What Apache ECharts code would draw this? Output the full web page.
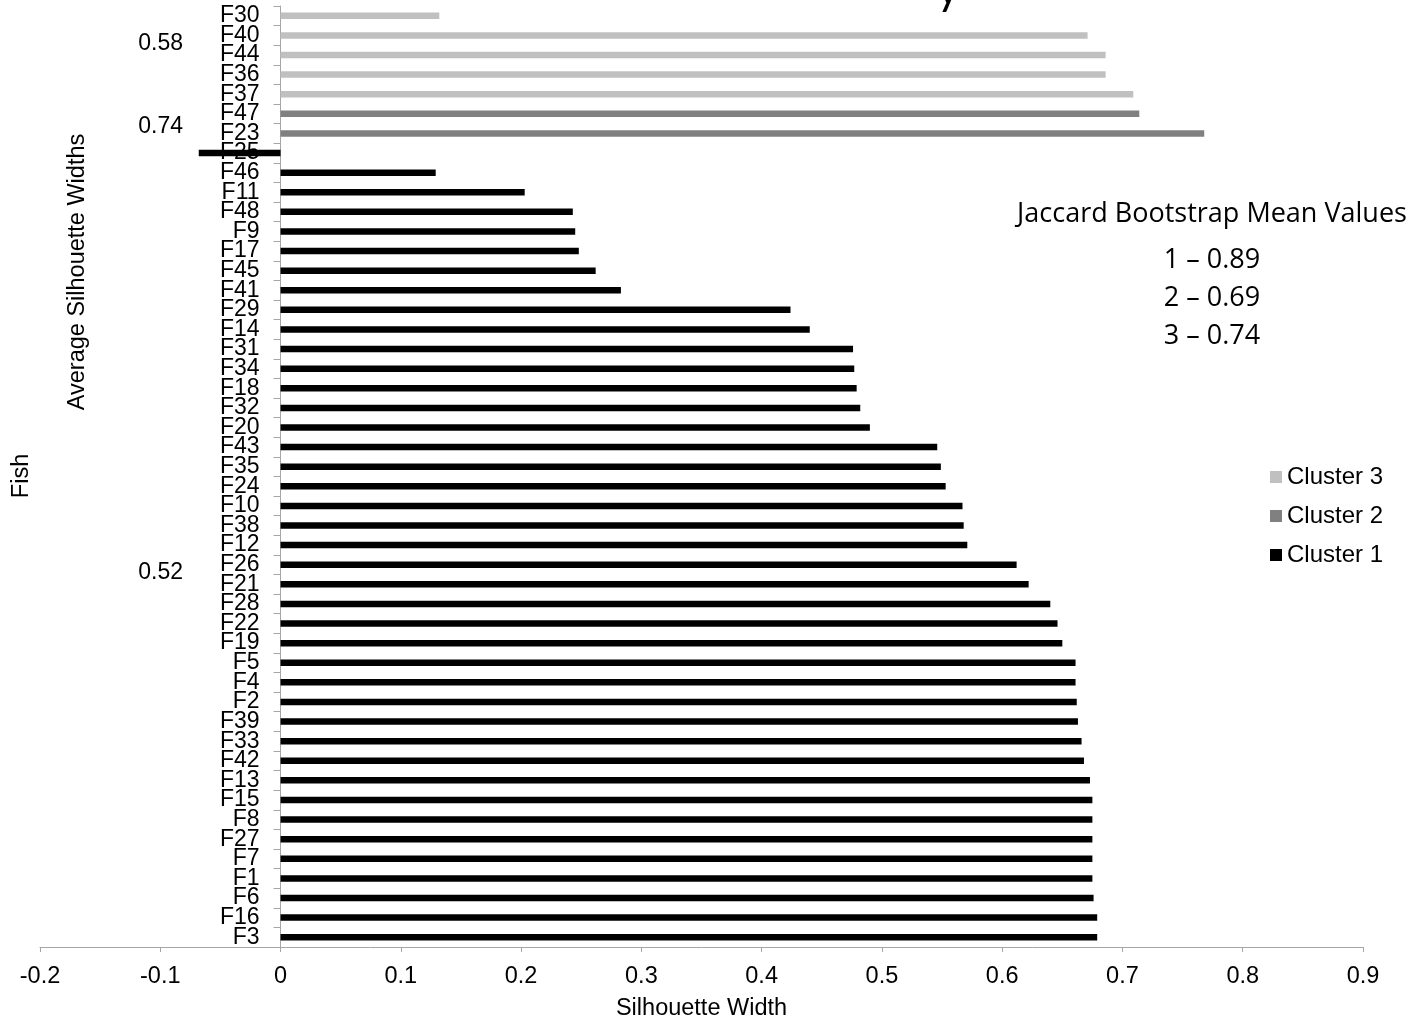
<!DOCTYPE html>
<html>
<head>
<meta charset="utf-8">
<script src="https://cdn.jsdelivr.net/npm/echarts@6/dist/echarts.min.js"></script>
<style>
  html, body { margin: 0; padding: 0; background: #fff; }
  #chart { width: 1416px; height: 1021px; }
</style>
</head>
<body>
<div id="chart"></div>
<script>
// Fish, listed top to bottom as drawn
const fish = ['F30','F40','F44','F36','F37','F47','F23','F25','F46','F11','F48','F9','F17','F45','F41','F29','F14','F31','F34','F18','F32','F20','F43','F35','F24','F10','F38','F12','F26','F21','F28','F22','F19','F5','F4','F2','F39','F33','F42','F13','F15','F8','F27','F7','F1','F6','F16','F3'];
// silhouette width per fish
const silhouette = [0.132,0.671,0.686,0.686,0.709,0.714,0.768,-0.068,0.129,0.203,0.243,0.245,0.248,0.262,0.283,0.424,0.440,0.476,0.477,0.479,0.482,0.490,0.546,0.549,0.553,0.567,0.568,0.571,0.612,0.622,0.640,0.646,0.650,0.661,0.661,0.662,0.663,0.666,0.668,0.673,0.675,0.675,0.675,0.675,0.675,0.676,0.679,0.679];
// cluster membership per fish
const cluster = [3,3,3,3,3,2,2,1,1,1,1,1,1,1,1,1,1,1,1,1,1,1,1,1,1,1,1,1,1,1,1,1,1,1,1,1,1,1,1,1,1,1,1,1,1,1,1,1];
const clusterNames = ['Cluster 3','Cluster 2','Cluster 1'];
const clusterIds = [3, 2, 1];
const clusterColors = ['#c0c0c0','#808080','#000000'];
const avgWidthLabels = ['0.58','0.74','0.52'];
const jaccardTitle = 'Jaccard Bootstrap Mean Values';
const jaccardLines = ['1 – 0.89','2 – 0.69','3 – 0.74'];
const xTicks = { min: -0.2, max: 0.9, interval: 0.1 };

const W = 1416, H = 1021;
const GRID = { left: 40, right: 53, top: 6, bottom: 74 };
const FONT = '"Liberation Sans", Arial, sans-serif';
const FS = 23;
const JFONT = '27px "Open Sans", sans-serif';

// y axis sits at x = 0 of the value scale
const gridWidth = W - GRID.left - GRID.right;
const zeroOffset = gridWidth * (0 - xTicks.min) / (xTicks.max - xTicks.min);

const series = clusterIds.map((cid, i) => ({
  name: clusterNames[i],
  type: 'bar',
  stack: 'all',
  barWidth: 6.5,
  itemStyle: { color: clusterColors[i] },
  data: silhouette.map((v, k) => cluster[k] === cid ? v : null),
  z: 3
}));

const chart = echarts.init(document.getElementById('chart'), null, { renderer: 'canvas' });
chart.setOption({
  animation: false,
  backgroundColor: '#ffffff',
  grid: { left: GRID.left, right: GRID.right, top: GRID.top, bottom: GRID.bottom, containLabel: false, outerBoundsMode: 'none' },
  legend: {
    data: clusterNames,
    orient: 'vertical',
    left: 1270,
    top: 465,
    padding: 0,
    itemWidth: 12,
    itemHeight: 12,
    itemGap: 15,
    icon: 'rect',
    textStyle: { fontFamily: FONT, fontSize: 24, color: '#000' }
  },
  xAxis: {
    type: 'value',
    min: xTicks.min, max: xTicks.max, interval: xTicks.interval,
    name: 'Silhouette Width',
    nameLocation: 'middle',
    nameGap: 50,
    nameTextStyle: { fontFamily: FONT, fontSize: 23.5, color: '#000' },
    axisLine: { show: true, lineStyle: { color: '#a6a6a6', width: 1 } },
    axisTick: { show: true, length: 5, lineStyle: { color: '#a6a6a6' } },
    splitLine: { show: false },
    axisLabel: {
      fontFamily: FONT, fontSize: 23.5, color: '#000', margin: 18,
      formatter: v => String(Math.round(v * 10) / 10)
    }
  },
  yAxis: {
    type: 'category',
    data: fish,
    inverse: true,
    position: 'left',
    offset: -zeroOffset,
    axisLine: { show: true, onZero: false, lineStyle: { color: '#a6a6a6', width: 1 } },
    axisTick: { show: true, length: 7, lineStyle: { color: '#a6a6a6' } },
    axisLabel: { interval: 0, fontFamily: FONT, fontSize: FS, color: '#000', margin: 21, lineHeight: 20 },
    splitLine: { show: false }
  },
  graphic: [
    { type: 'text', x: 183, y: 44, style: { text: avgWidthLabels[0], font: FS + 'px ' + FONT, fill: '#000', align: 'right', verticalAlign: 'middle' } },
    { type: 'text', x: 183, y: 127, style: { text: avgWidthLabels[1], font: FS + 'px ' + FONT, fill: '#000', align: 'right', verticalAlign: 'middle' } },
    { type: 'text', x: 183, y: 573, style: { text: avgWidthLabels[2], font: FS + 'px ' + FONT, fill: '#000', align: 'right', verticalAlign: 'middle' } },
    { type: 'text', x: 78, y: 272, rotation: Math.PI / 2, style: { text: 'Average Silhouette Widths', font: '23.5px ' + FONT, fill: '#000', align: 'center', verticalAlign: 'middle' } },
    { type: 'text', x: 22, y: 476, rotation: Math.PI / 2, style: { text: 'Fish', font: '23.5px ' + FONT, fill: '#000', align: 'center', verticalAlign: 'middle' } },
    { type: 'text', x: 1212, y: 214, style: { text: jaccardTitle, font: JFONT, fill: '#000', align: 'center', verticalAlign: 'middle' } },
    { type: 'text', x: 1212, y: 260, style: { text: jaccardLines[0], font: JFONT, fill: '#000', align: 'center', verticalAlign: 'middle' } },
    { type: 'text', x: 1212, y: 298, style: { text: jaccardLines[1], font: JFONT, fill: '#000', align: 'center', verticalAlign: 'middle' } },
    { type: 'text', x: 1212, y: 336, style: { text: jaccardLines[2], font: JFONT, fill: '#000', align: 'center', verticalAlign: 'middle' } },
    { type: 'text', x: 948, y: -32, style: { text: 'y', font: '44px Lato, sans-serif', fill: '#000', align: 'center', verticalAlign: 'top' } }
  ],
  series: series
});
</script>
</body>
</html>
